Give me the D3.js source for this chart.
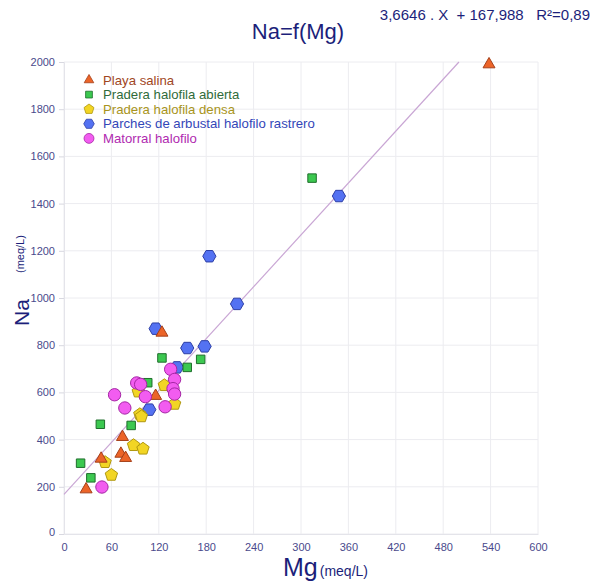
<!DOCTYPE html>
<html>
<head>
<meta charset="utf-8">
<script src="https://cdn.jsdelivr.net/npm/d3@7"></script>
<style>
  body { margin: 0; background: #fff; }
  svg { display: block; font-family: Arial, "Liberation Sans", sans-serif; }
</style>
</head>
<body>
<svg id="chart" width="596" height="582"></svg>
<script>
// Mg (x) / Na (y) per group, meq/L
const playaMg = [538, 124, 116, 74, 72, 78, 47, 28];
const playaNa = [1990, 853, 585, 411, 340, 322, 319, 189];
const abiertaMg = [314, 124, 173, 156, 106, 46, 85, 21, 34];
const abiertaNa = [1508, 746, 740, 706, 641, 465, 460, 300, 238];
const densaMg = [127, 94, 140, 96, 98, 88, 100, 52, 60];
const densaNa = [630, 603, 551, 507, 498, 376, 361, 304, 250];
const parchesMg = [348, 184, 219, 116, 156, 178, 143, 108];
const parchesNa = [1432, 1177, 975, 870, 788, 795, 706, 527];
const matorralMg = [135, 140, 92, 97, 138, 140, 103, 64, 77, 128, 48];
const matorralNa = [698, 655, 640, 634, 616, 593, 582, 590, 534, 539, 199];

const groupNames = ["Playa salina", "Pradera halofila abierta", "Pradera halofila densa",
  "Parches de arbustal halofilo rastrero", "Matorral halofilo"];
const xTicks = [0, 60, 120, 180, 240, 300, 360, 420, 480, 540, 600];
const yTicks = [0, 200, 400, 600, 800, 1000, 1200, 1400, 1600, 1800, 2000];
const slope = 3.6646, intercept = 167.988;

const svg = d3.select("#chart");
const x = d3.scaleLinear().domain([0, 600]).range([64, 538]);
const y = d3.scaleLinear().domain([0, 2000]).range([534, 62]);
const navy = "#1c1f7a";
const tickColor = "#4a4a8c";

// grid
svg.append("g").selectAll("line").data(xTicks).enter().append("line")
  .attr("x1", d => x(d)).attr("x2", d => x(d)).attr("y1", y(0)).attr("y2", y(2000))
  .attr("stroke", "#ececf0").attr("stroke-width", 1);
svg.append("g").selectAll("line").data(yTicks).enter().append("line")
  .attr("x1", x(0)).attr("x2", x(600)).attr("y1", d => y(d)).attr("y2", d => y(d))
  .attr("stroke", "#ececf0").attr("stroke-width", 1);

// axes
const xAxis = svg.append("g").attr("transform", `translate(0,${y(0)})`)
  .call(d3.axisBottom(x).tickValues(xTicks).tickSize(0).tickPadding(9));
const yAxis = svg.append("g").attr("transform", `translate(${x(0)},0)`)
  .call(d3.axisLeft(y).tickValues(yTicks).tickFormat(d3.format("d")).tickSize(5).tickPadding(4));
[xAxis, yAxis].forEach(a => {
  a.select(".domain").attr("stroke", "#e4e4ea");
  a.selectAll(".tick line").attr("stroke", "#d8d8e0");
  a.selectAll("text").attr("fill", tickColor).attr("font-size", 11)
    .attr("font-family", "Arial, 'Liberation Sans', sans-serif");
});
yAxis.select(".tick text").attr("dy", "0.1em");

// regression line
const xEnd = (2000 - intercept) / slope;
svg.append("line")
  .attr("x1", x(0)).attr("y1", y(intercept))
  .attr("x2", x(xEnd)).attr("y2", y(2000))
  .attr("stroke", "#c9a6d4").attr("stroke-width", 1.2);

// marker shapes
function polygon(n, r, rot) {
  const pts = d3.range(n).map(i => {
    const a = rot + i * 2 * Math.PI / n;
    return [r * Math.cos(a), r * Math.sin(a)];
  });
  return "M" + pts.join("L") + "Z";
}
const shapes = {
  triangle: d3.symbol().type(d3.symbolTriangle).size(62)(),
  square: d3.symbol().type(d3.symbolSquare).size(72)(),
  pentagon: polygon(5, 6.5, -Math.PI / 2),
  hexagon: polygon(6, 6.6, 0),
  circle: d3.symbol().type(d3.symbolCircle).size(120)()
};

const groups = [
  { mg: parchesMg, na: parchesNa, shape: "hexagon", fill: "#5472f2", stroke: "#2d3fa6" },
  { mg: abiertaMg, na: abiertaNa, shape: "square", fill: "#3cc850", stroke: "#1f6e2c" },
  { mg: densaMg, na: densaNa, shape: "pentagon", fill: "#f2d524", stroke: "#b09810" },
  { mg: playaMg, na: playaNa, shape: "triangle", fill: "#ec6428", stroke: "#a5401a" },
  { mg: matorralMg, na: matorralNa, shape: "circle", fill: "#f25cf0", stroke: "#a526a5" }
];

groups.forEach(g => {
  const pts = g.mg.map((m, i) => ({ mg: m, na: g.na[i] }));
  svg.append("g").selectAll("path").data(pts).enter().append("path")
    .attr("d", shapes[g.shape])
    .attr("transform", d => `translate(${x(d.mg)},${y(d.na)})`)
    .attr("fill", g.fill).attr("stroke", g.stroke).attr("stroke-width", 1);
});

// legend
const legendItems = [
  { shape: "triangle", fill: "#ec6428", stroke: "#a5401a", text: "#a0461e" },
  { shape: "square", fill: "#3cc850", stroke: "#1f6e2c", text: "#2f6b3a" },
  { shape: "pentagon", fill: "#f2d524", stroke: "#b09810", text: "#a89420" },
  { shape: "hexagon", fill: "#5472f2", stroke: "#2d3fa6", text: "#3346b8" },
  { shape: "circle", fill: "#f25cf0", stroke: "#a526a5", text: "#b02ab0" }
];
const legend = svg.append("g").attr("transform", "translate(89,80)");
legendItems.forEach((it, i) => {
  const row = legend.append("g").attr("transform", `translate(0,${i * 14.6})`);
  row.append("path").attr("d", shapes[it.shape])
    .attr("transform", "scale(0.8)")
    .attr("fill", it.fill).attr("stroke", it.stroke);
  row.append("text").attr("x", 14).attr("y", 4.5)
    .attr("font-size", 13.2).attr("fill", it.text).text(groupNames[i]);
});

// titles
svg.append("text").attr("x", 298).attr("y", 39).attr("text-anchor", "middle")
  .attr("font-size", 22).attr("fill", navy).text("Na=f(Mg)");
svg.append("text").attr("x", 590).attr("y", 20).attr("text-anchor", "end")
  .attr("font-size", 15).attr("fill", navy).attr("xml:space", "preserve")
  .text("3,6646 . X  + 167,988   R²=0,89");

const xl = svg.append("text").attr("x", 283).attr("y", 576).attr("fill", navy);
xl.append("tspan").attr("font-size", 25).text("Mg");
xl.append("tspan").attr("font-size", 14).attr("dx", 2).text("(meq/L)");

svg.append("text").attr("transform", "translate(29,326) rotate(-90)")
  .attr("fill", navy).attr("font-size", 21).text("Na");
svg.append("text").attr("transform", "translate(24,273) rotate(-90)")
  .attr("fill", navy).attr("font-size", 11).text("(meq/L)");
</script>
</body>
</html>
